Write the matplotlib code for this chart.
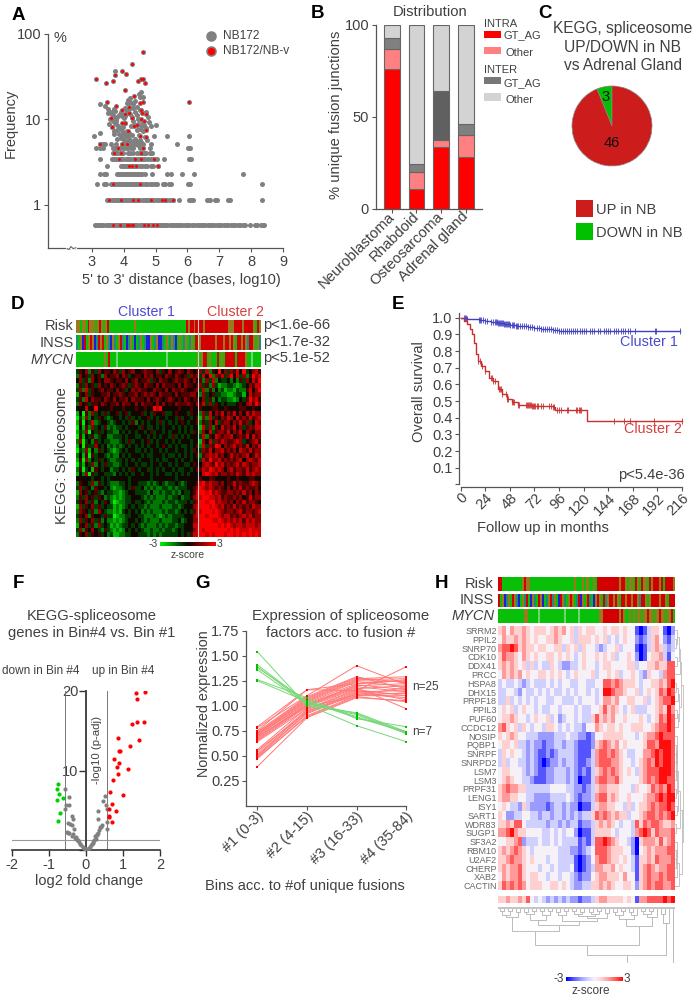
import numpy as np
import matplotlib
matplotlib.use('Agg')
import matplotlib.pyplot as plt
from matplotlib.colors import LinearSegmentedColormap, to_rgb
from matplotlib.patches import Rectangle
from matplotlib.transforms import ScaledTranslation

plt.rcParams['font.family'] = ['Liberation Sans', 'DejaVu Sans']
plt.rcParams['text.color'] = '#404040'
plt.rcParams['axes.edgecolor'] = '#555555'
plt.rcParams['xtick.color'] = '#555555'
plt.rcParams['ytick.color'] = '#555555'
plt.rcParams['xtick.labelcolor'] = '#404040'
plt.rcParams['ytick.labelcolor'] = '#404040'
plt.rcParams['axes.unicode_minus'] = False

W, H = 693, 997

# --- A: fusion distance vs frequency
a_rows = {
    0.578: [3.1, 3.15, 3.22, 3.3, 3.36, 3.44, 3.5, 3.56, 3.62, 3.7, 3.76, 3.82, 3.9, 3.96, 4.02, 4.08, 4.16, 4.22,
            4.3, 4.36, 4.42, 4.5, 4.56, 4.62, 4.7, 4.76, 4.84, 4.9, 4.96, 5.02, 5.1, 5.16, 5.24, 5.3, 5.36, 5.44,
            5.5, 5.58, 5.64, 5.7, 5.78, 5.84, 5.92, 6.0, 6.06, 6.14, 6.2, 6.3, 6.36, 6.44, 6.5, 6.56, 6.64, 6.7,
            6.78, 6.84, 6.92, 7.0, 7.06, 7.14, 7.2, 7.28, 7.36, 7.44, 7.5, 7.6, 7.66, 7.74, 7.8, 7.96, 8.12, 8.18,
            8.3, 8.36, 8.4],
    1.155: [3.48, 3.55, 3.62, 3.68, 3.74, 3.8, 3.86, 3.92, 3.98, 4.04, 4.1, 4.16, 4.22, 4.28, 4.34, 4.4, 4.46, 4.52,
            4.6, 4.66, 4.74, 4.8, 4.88, 4.96, 5.05, 5.12, 5.2, 5.28, 5.36, 5.44, 5.55, 5.72, 6.05, 6.12, 6.18, 6.62,
            6.68, 6.72, 6.88, 6.94, 7.28, 7.34, 8.35],
    1.746: [3.15, 3.38, 3.44, 3.6, 3.66, 3.72, 3.78, 3.84, 3.9, 3.96, 4.02, 4.08, 4.14, 4.2, 4.26, 4.32, 4.38, 4.44,
            4.5, 4.58, 4.66, 4.74, 4.82, 4.9, 4.98, 5.05, 5.22, 5.3, 5.42, 5.48, 6.02, 6.08, 8.35],
    2.33: [3.24, 3.38, 3.44, 3.78, 3.84, 3.92, 3.98, 4.04, 4.1, 4.16, 4.22, 4.28, 4.34, 4.4, 4.46, 4.52, 4.58, 4.66,
           4.9, 5.36, 5.48, 5.84, 6.2, 7.75],
    2.89: [3.46, 3.9, 3.96, 4.04, 4.1, 4.16, 4.22, 4.28, 4.34, 4.42, 4.5, 4.58, 4.66, 4.74, 4.84, 4.92, 5.08],
    3.46: [3.26, 3.62, 3.7, 3.76, 3.84, 3.92, 3.98, 4.06, 4.14, 4.2, 4.28, 4.36, 4.44, 4.52, 4.6, 4.68, 4.76, 4.86,
           4.96, 5.04, 5.26, 6.06, 6.12],
    4.06: [3.66, 3.74, 3.8, 3.88, 3.96, 4.14, 4.2, 4.3, 4.42, 4.5, 4.56, 4.62, 4.7, 4.82, 4.9],
    4.69: [3.12, 3.24, 3.36, 3.66, 3.72, 3.8, 3.88, 3.98, 4.06, 4.14, 4.22, 4.28, 4.52, 4.6, 4.82, 6.02, 6.08],
    5.2: [3.26, 3.34, 3.42, 3.6, 3.76, 3.94, 4.0, 4.08, 4.14, 4.2, 4.4, 4.46, 4.52, 4.6, 4.84, 5.68],
}
a_gray_x = [3.07, 3.25, 3.25, 3.42, 3.5, 3.55, 3.6, 3.65, 3.7, 3.75, 3.8, 3.85, 3.9, 3.95, 4.0, 4.05, 4.1, 4.15, 4.2,
            4.25, 4.3, 4.35, 4.4, 4.45, 4.5, 4.55, 4.6, 4.65, 4.7, 4.75, 3.55, 3.62, 3.68, 3.74, 3.8, 3.86, 3.92, 3.98,
            4.04, 4.1, 4.16, 4.22, 4.28, 4.34, 4.4, 4.46, 4.52, 4.58, 4.64, 4.7, 3.7, 3.8, 3.95, 4.0, 4.06, 4.12, 4.18,
            4.25, 4.3, 4.36, 4.42, 4.48, 4.54, 4.6, 4.66, 4.72, 4.8, 4.85, 4.95, 5.0, 5.35, 6.04, 4.1, 4.14, 4.2, 4.35,
            4.48, 4.5, 4.55, 4.6, 3.5, 3.72, 4.05, 4.12, 4.2, 4.28, 4.4, 3.72, 3.68, 3.62, 3.58, 3.65, 3.72, 3.78, 3.85,
            3.9, 3.98, 4.06, 4.13, 4.22, 4.3, 4.38, 4.46, 4.52]
a_gray_y = [6.4, 6.9, 15.0, 14.5, 13.2, 12.4, 11.8, 11.2, 10.8, 10.2, 10.6, 11.4, 12.1, 11.0, 10.4, 10.9, 12.6, 13.2, 11.7,
            10.8, 13.6, 12.2, 11.2, 10.0, 12.8, 9.8, 9.0, 12.0, 12.3, 10.8, 8.9, 8.1, 7.4, 9.6, 7.6, 6.7, 6.1, 8.2, 9.0,
            7.4, 6.9, 8.5, 9.5, 8.6, 7.6, 8.9, 7.8, 8.3, 8.6, 8.0, 6.7, 5.9, 6.4, 5.8, 6.7, 6.3, 5.8, 6.6, 5.5, 5.9, 5.4,
            6.6, 5.5, 7.4, 6.3, 5.7, 9.3, 8.3, 6.4, 8.7, 6.4, 6.4, 15.6, 17.0, 18.0, 16.6, 19.8, 18.3, 20.8, 18.5, 12.0,
            37.0, 13.6, 15.4, 16.0, 15.0, 14.0, 12.5, 13.2, 12.1, 10.0, 9.6, 9.2, 8.7, 8.2, 7.8, 7.1, 6.4, 5.6, 5.4, 5.0,
            5.2, 5.0, 5.8]
a_red_x = [3.12, 3.45, 3.65, 3.72, 3.95, 4.08, 4.25, 4.6, 4.45, 4.55, 4.6, 4.68, 4.05, 4.32, 3.47, 3.75, 6.05, 4.5,
           4.6, 3.6, 3.93, 4.05, 4.15, 4.15, 4.27, 4.55, 4.58, 4.7, 4.55, 4.62, 3.93, 4.05, 3.62, 4.32, 4.42, 4.12,
           4.7, 4.5, 4.7, 3.25, 3.95, 4.1, 4.6, 3.83, 3.7, 3.9, 4.55, 3.85, 4.35, 4.55, 4.15, 4.25, 4.37, 4.95, 5.08,
           3.65, 4.5, 3.55, 3.92, 4.28, 4.45, 4.85, 5.2, 5.28, 5.55, 3.65, 3.88, 4.1, 4.15, 4.25, 4.3, 4.65, 4.75,
           4.92, 5.05]
a_red_y = [30, 27, 28, 33, 37, 34, 44, 62, 28.5, 29.5, 30, 27, 22, 19, 16, 14.5, 16.2, 15.5, 16, 10.5, 12.8, 11.5,
           11.8, 14, 10.5, 13, 12, 11.5, 10, 9.5, 9.2, 9.0, 8.1, 8.5, 8.6, 7.4, 7.5, 6.4, 6.3, 5.2, 5.2, 5.2, 4.69,
           4.69, 4.06, 4.06, 4.06, 3.46, 3.46, 3.46, 2.89, 2.89, 2.89, 3.46, 2.89, 1.746, 1.746, 1.155, 1.155, 1.155,
           1.155, 1.155, 1.155, 1.155, 1.155, 0.578, 0.578, 0.578, 0.578, 0.578, 0.578, 0.578, 0.578, 0.578, 0.578]

# --- B: junction distribution
b_tissues = ['Neuroblastoma', 'Rhabdoid', 'Osteosarcoma', 'Adrenal gland']
b_intra_gt = [76, 11, 33.5, 28.5]
b_intra_other = [11, 9, 4, 11.5]
b_inter_gt = [6, 4.5, 26.5, 6]
b_inter_other = [7, 75.5, 36, 54]
b_inter_colors = ['#808080', '#808080', '#606060', '#808080']

# --- C: KEGG pie
c_counts = [3, 46]
c_colors = ['#00c000', '#cc1c1c']

# --- D: heatmap, digits 0-8 stand for z -3..3
d_risk = "OOGOOGROOOGOROGOR" "GGGGGGGGGGGGGOGGGGGGGGGGGGGGGGGGGGGGGGGG" "RORRO" "RRRRORRRRRRRRRRRROOORRRRORRRRROGRO"
d_inss = "TGOBRGOROBTRORGOTBOTGORTGBTOGBGTOGTBBOGTOBBTGOGTOTBGOGTOGTOG" "RROR" "RRRRRRORRRORROROGRROROTRROGOT"
d_mycn = "GGGGGGGGGGGGGGOGRGGGWGGGGGGGGGGGGGGGGGGGGGGGGWGGGGGGGGGGGGGG" "OGORRGOG" "GGRGOGRRRRRGRRRROGGWGGGG"
d_rows = [
    "3546253645 5465364564 4565546354 6456546545 6372548463 6574834675",
    "2645364526 4556465345 5465645546 5465453656 3748265736 8473625867",
    "4635264546 6545546456 4556354655 4565565464 5263724334 2425364758",
    "2536453645 4654565356 5465546465 5546465545 6352631223 3212346577",
    "3627354564 5546453465 6554465546 4655654456 3725242312 2132257468",
    "1546354455 6455654556 4565654655 5464555664 2634533221 1233147566",
    "3527465546 5464556465 5546456545 6545465455 4635242332 2124358675",
    "2645355465 4556465546 4655546464 5465556546 5736354343 3345467586",
    "4447448444 4544454445 4454487844 4445444544 5444554454 4445544544",
    "1405263435 3445345344 4534354453 3454443544 2637465746 5746475766",
    "0316243543 2344343534 3445343443 4435344345 1627354657 6475657567",
    "1504372344 3234434352 4343443534 3434543445 2536473566 4657563476",
    "0415263435 2323343444 3543343434 4343434344 1736254756 5746356577",
    "1326043534 3322434343 4434534434 3443434354 2647356657 4657465466",
    "0514352344 2233343443 3443434344 3534343444 3725476566 7456574756",
    "2603425343 3222343534 4345343443 4343444344 1647365765 5676345675",
    "1405336434 2323234343 4343443454 3434334345 2736587465 6756574657",
    "0326142534 3212343443 3434344343 4434434354 3657466756 5647657566",
    "2415053443 2322434344 4343344434 3343434345 2567675645 7565674576",
    "1506243534 3223343434 3444343433 4434344344 3758667565 6567467657",
    "0314362435 3322343443 4334344344 3434433454 4676586756 5675765667",
    "2503415434 4233434354 3443343434 4343344345 5768767646 7566575676",
    "1426053443 3324343434 4344343443 3434343444 4787675665 6576576766",
    "4444434434 3444444344 4444344444 4434444444 5445544445 4454445544",
    "2544362534 3222334344 3332323432 3343234445 7867665645 5756556765",
    "3635425443 4212234353 3423232233 2323334456 8767656546 4657565564",
    "1645345324 3322123443 3332422323 3232433457 8878676556 6565756465",
    "2536453542 3212123344 4323232223 2334233467 7887767565 5656457566",
    "3546352435 4201223343 3432322232 3323334356 8878867665 6465756654",
    "1635463534 3312123434 3323222322 2332344467 8887876756 5756565766",
    "2654352643 2212134343 4232322232 3323434357 7888787656 6567566567",
    "3546254435 3301223344 3322232123 2333344467 8878887677 5656767566",
    "2635463524 2212123443 4323222322 2334234466 8888778767 6767576766",
    "1546352634 3121233434 3232223232 3323344477 8888887878 7677677767",
    "3625464325 3212124343 4322322323 3234344467 8788888887 8787778777",
    "2546354534 2311223344 3332323233 3334343577 8878788878 8787878787",
]

# --- E: survival curves
e_blue_t = [0, 6, 12, 18, 24, 30, 36, 42, 48, 54, 60, 66, 72, 78, 84, 90, 96, 214]
e_blue_s = [1.0, 0.995, 0.99, 0.985, 0.98, 0.975, 0.97, 0.96, 0.955, 0.95, 0.95, 0.945, 0.94, 0.93, 0.93, 0.925, 0.92, 0.92]
e_blue_cens = [3, 4, 5, 6, 18, 19, 20, 22, 24, 26, 30, 32, 33, 34, 35, 36, 37, 38, 39, 40, 41, 42, 43, 44, 45, 46, 47, 48,
               50, 51, 52, 54, 55, 56, 58, 60, 62, 64, 66, 68, 70, 72, 74, 76, 78, 80, 82, 84, 86, 88, 90, 92, 94, 96,
               98, 100, 102, 104, 106, 108, 110, 112, 114, 116, 118, 120, 122, 126, 128, 130, 134, 136, 140, 142, 144,
               146, 150, 152, 154, 156, 158, 160, 163, 165, 170, 190, 191, 214]
e_red_t = [0, 3, 6, 9, 11, 13, 15, 17, 20, 24, 28, 32, 36, 40, 45, 50, 56, 70, 90, 92, 123, 216]
e_red_s = [1.0, 0.98, 0.96, 0.93, 0.9, 0.85, 0.78, 0.74, 0.71, 0.68, 0.64, 0.62, 0.57, 0.54, 0.51, 0.495, 0.475, 0.47, 0.465,
           0.445, 0.38, 0.38]
e_red_cens = [17, 19, 21, 24, 30, 31, 32, 33, 37, 38, 39, 40, 44, 45, 46, 50, 51, 52, 56, 57, 64, 65, 66, 67, 68, 69, 70,
              71, 72, 73, 74, 75, 78, 80, 86, 88, 90, 91, 94, 96, 98, 104, 105, 113, 114, 115, 116, 117, 150, 159, 165,
              189, 216]

# --- F: volcano
f_red_x = [1.6, 1.35, 1.38, 1.56, 1.39, 1.25, 1.44, 0.87, 1.19, 0.89, 0.91, 0.76, 0.89, 0.83, 1.14, 0.87, 0.72, 0.64,
           0.99, 0.69, 0.61, 0.82, 0.62, 0.63, 0.71]
f_red_y = [19.9, 19.8, 19, 16.1, 16.1, 15.8, 13.8, 14.1, 13.1, 12.5, 12.4, 11.4, 10.9, 10.4, 10.2, 9.6, 8.8, 7.3, 6.9,
           5.8, 5.2, 4.9, 4.3, 4.2, 3.5]
f_green_x = [-0.75, -0.78, -0.74, -0.62, -0.79, -0.71, -0.75]
f_green_y = [8.3, 7.7, 7.0, 6.5, 6.3, 4.7, 3.6]
f_gray_x = [0.52, 0.47, 0.54, 0.56, 0.33, 0.33, 0.58, 0.43, 0.38, 0.56, 0.36, 0.33, 0.29, 0.25, 0.22, 0.18, 0.13, 0.07,
            0.02, 0.4, 0.3, 0.27, 0.2, 0.16, 0.1, -0.57, -0.45, -0.54, -0.46, -0.57, -0.37, -0.34, -0.48, -0.39, -0.33,
            -0.52, -0.46, -0.39, -0.3, -0.21, -0.16, -0.09, -0.03, -0.42, -0.5, -0.36, -0.27, -0.24, -0.18, -0.13, -0.06]
f_gray_y = [6.8, 6.2, 5.7, 5.2, 4.9, 3.9, 3.5, 3.2, 2.9, 2.6, 2.5, 2.2, 2.0, 1.7, 1.3, 0.9, 0.6, 0.3, 0.1, 2.9, 1.9,
            1.4, 1.0, 0.7, 0.4, 7.7, 6.7, 5.7, 5.7, 5.2, 4.3, 3.9, 3.4, 3.2, 2.6, 2.3, 2.1, 1.8, 1.5, 1.2, 0.8, 0.4, 0.1,
            3.3, 2.2, 2.0, 1.6, 1.3, 1.0, 0.6, 0.2]

# --- G: expression by bin
g_bins = ['#1 (0-3)', '#2 (4-15)', '#3 (16-33)', '#4 (35-84)']
g_red_1 = [.39, .47, .48, .49, .50, .51, .53, .55, .56, .64, .65, .66, .67, .68, .69, .70, .70, .71, .72, .72, .73, .74, .75, .78, .79]
g_red_2 = [.88, .90, .89, .92, .93, .95, .96, .94, .98, .97, .99, 1.0, 1.01, 1.02, 1.0, 1.03, 1.04, 1.05, 1.06, 1.07, 1.08, 1.09, 1.16, 1.10, 1.16]
g_red_3 = [1.08, 1.10, 1.09, 1.12, 1.13, 1.10, 1.15, 1.14, 1.11, 1.16, 1.17, 1.18, 1.19, 1.20, 1.21, 1.22, 1.24, 1.25, 1.26, 1.27, 1.28, 1.29, 1.15, 1.40, 1.22]
g_red_4 = [1.05, 1.10, 1.04, 1.08, 1.12, 1.13, 1.06, 1.15, 1.18, 1.10, 1.20, .97, 1.14, 1.22, 1.16, 1.25, 1.19, 1.24, 1.27, 1.29, 1.23, 1.17, 1.39, 1.21, 1.26]
g_green_1 = [1.54, 1.41, 1.39, 1.38, 1.36, 1.26, 1.25]
g_green_2 = [1.0, 1.03, 1.02, 1.05, 1.01, 1.08, 1.04]
g_green_3 = [.93, .92, .91, .89, .80, .87, .88]
g_green_4 = [.74, .73, .72, .73, .64, .79, .74]

# --- H: spliceosome factor heatmap
h_genes = ['SRRM2', 'PPIL2', 'SNRP70', 'CDK10', 'DDX41', 'PRCC', 'HSPA8', 'DHX15', 'PRPF18', 'PPIL3', 'PUF60', 'CCDC12',
           'NOSIP', 'PQBP1', 'SNRPF', 'SNRPD2', 'LSM7', 'LSM3', 'PRPF31', 'LENG1', 'ISY1', 'SART1', 'WDR83', 'SUGP1',
           'SF3A2', 'RBM10', 'U2AF2', 'CHERP', 'XAB2', 'CACTIN']
h_rows = [
    "56465565455 54565645354 55445455454 41013554102",
    "46556565454 45565445355 54545343454 42123564213",
    "67787565545 54455354535 44323445344 41013565323",
    "57665465454 45545454345 44545453445 42014556314",
    "56565453534 33543223345 44345544445 53445565577",
    "46565645445 54545434544 45344545344 54325443677",
    "34334323433 34343443344 33447767655 54344556578",
    "33443243343 43433434344 34348876654 45345457687",
    "33534343434 43344333434 44346656445 54453456778",
    "45453454434 33443444343 34457565434 53334456586",
    "45565443454 45342344343 35756564454 44543457687",
    "67545354344 35543434332 44654554544 55544567787",
    "54565443332 22233343322 12445555544 43456678777",
    "45545332322 12233233211 12567656454 44457768887",
    "35454432321 12123333211 13677676543 34466787887",
    "35344332321 01223233211 23677766544 34567687887",
    "45544432321 12233323212 13567676545 43567778887",
    "45654433211 12233323201 13677667544 44567678877",
    "56766553333 33444433221 23566555444 35445767687",
    "56655443322 22333343212 23677565445 44456678788",
    "45433253222 21233232201 13566554435 34556767787",
    "54223344332 33233232323 35767656553 44567767678",
    "55657743333 32332323312 23565654344 37576776556",
    "66786554444 33434344201 13555543444 36787576667",
    "44556723334 33434333312 13778765443 20566657567",
    "56567654344 44443332212 34777655544 20456566677",
    "55676654544 43443333101 24677655454 31556576667",
    "56566754443 44343334101 23665564544 31567656677",
    "46566754554 43443443212 24566555464 41567667677",
    "57676764555 44554543223 35565654455 42567677667",
]
h_summary = "55655657434 32323232212 23566555545 41667777878"
h_risk = "RRGGGGGGGGGGOROOGGGGGGGGGGGGGGGGGGGGGGOGGGOGOGGOGRRRRRRRRRRRORROGOOGROGROOGRORRRORGRRRRO"
h_inss = "RGOBTOGROTBGOTRGBOTGROBGTORTOGBROTGOROGTRBOGORTGBOROGRTORROROGRRORRORROTRROGORRRRORROGRRR"
h_mycn = "GGGGGGGGGGGGGOOGGGGGWGGGGGGGGGGGGWGGGGGGWGGGGGGGGGOORRRRRRRROROGGOGOGOOGOOROOGOOROOGOORG"
h_col_gaps = [.06, .12, .05, .16, .08, .42, .07, .10, .05, .22, .06, .13, .05, .30, .08, .12, .06, .24, .05, .11, .07,
              .15, .08, .10, .05, .18, .09, .67, .07, .12, .05, .2, .08, .13, .32, .06, .11, .05, .16, .85, .1, .28, 1.0]
h_row_gaps = [.2, .1, .35, .15, .5, .62, .12, .25, .4, .2, .3, .8, .15, .1, .08, .12, .05, .22, .1, .3, .2, .45, .12,
              .7, .15, .1, .08, .2, .35]

strip_colors = {'G': '#08c008', 'R': '#d20000', 'O': '#9a7a1c', 'B': '#1e1ed8', 'T': '#1f8c78', 'W': '#70d470'}
rg_cmap = LinearSegmentedColormap.from_list('rg', ['#00f000', '#00b800', '#007a00', '#003c00', '#100800', '#500000',
                                                   '#8c0000', '#c80000', '#ff0000'])
bwr_cmap = LinearSegmentedColormap.from_list('bwr2', ['#0000ff', '#5555ff', '#9a9aff', '#d0d0ff', '#f6f2f8', '#ffd2d2',
                                                      '#ff9c9c', '#ff5c5c', '#ff0c0c'])

fig = plt.figure(figsize=(W / 100, H / 100), dpi=100)


def px_axes(x0, y0, x1, y1):
    # y0 is the top edge, everything in image pixels
    return fig.add_axes([x0 / W, 1 - y1 / H, (x1 - x0) / W, (y1 - y0) / H])


def clean(ax, lw=0.9):
    ax.spines['top'].set_visible(False)
    ax.spines['right'].set_visible(False)
    ax.spines['left'].set_linewidth(lw)
    ax.spines['bottom'].set_linewidth(lw)
    ax.patch.set_alpha(0)


def digits(rows):
    return np.array([[int(c) for c in r.replace(' ', '')] for r in rows], dtype=float)


def strip(box, codes):
    ax = px_axes(*box)
    ax.imshow([[to_rgb(strip_colors[c]) for c in codes]], aspect='auto', interpolation='nearest')
    ax.axis('off')


def dendro(gaps, lo, hi):
    if lo == hi:
        return lo, 0, []
    k = lo + int(np.argmax(gaps[lo:hi]))
    c1, h1, s1 = dendro(gaps, lo, k)
    c2, h2, s2 = dendro(gaps, k + 1, hi)
    seg = ([c1, c1, c2, c2], [h1, gaps[k], gaps[k], h2])
    return (c1 + c2) / 2, gaps[k], s1 + s2 + [seg]


# panel A
ax = px_axes(48, 34, 283, 248)
clean(ax)
ax.set_yscale('log')
ax.set_xlim(1.62, 9)
ax.set_ylim(0.314, 100)
for y_val, xs in a_rows.items():
    ax.scatter(xs, [y_val] * len(xs), s=13, color='#808080', linewidths=0, zorder=2)
ax.scatter(a_gray_x, a_gray_y, s=13, color='#808080', linewidths=0, zorder=2)
ax.scatter(a_red_x, a_red_y, s=13, color='#808080', linewidths=0, zorder=3)
ax.scatter(a_red_x, a_red_y, s=4.5, color='#ff0000', linewidths=0, zorder=4)
ax.set_yticks([1, 10, 100])
ax.set_yticklabels(['1', '10', '100'], fontsize=10.5)
ax.minorticks_off()
ax.set_xticks([3, 4, 5, 6, 7, 8, 9])
ax.tick_params(axis='x', labelsize=10.5, length=3, width=0.8, pad=2)
ax.tick_params(axis='y', length=3, width=0.8, pad=2)

# panel B
ax = px_axes(376, 25, 482, 209)
clean(ax)
xb = np.arange(4)
ax.set_xlim(-0.65, 3.67)
ax.set_ylim(0, 100)
bottom = np.zeros(4)
for vals, col in [(b_intra_gt, '#ff0000'), (b_intra_other, '#ff8080'), (b_inter_gt, b_inter_colors),
                  (b_inter_other, '#d3d3d3')]:
    ax.bar(xb, vals, 0.65, bottom=bottom, color=col, edgecolor='#666666', linewidth=0.8)
    bottom += np.array(vals)
ax.set_yticks([0, 50, 100])
ax.set_xticks(xb)
ax.set_xticklabels(b_tissues, rotation=45, ha='right', va='center', rotation_mode='anchor', fontsize=10.7)
ax.tick_params(axis='y', labelsize=10.5, length=3, width=0.8, pad=2)
ax.tick_params(axis='x', length=3, width=0.8, pad=1)

# panel C
ax = px_axes(562, 76, 662, 176)
ax.pie(c_counts, colors=c_colors, startangle=90, radius=0.8, center=(0, 0),
       wedgeprops={'edgecolor': '#888888', 'linewidth': 0.5})
ax.set_xlim(-1, 1)
ax.set_ylim(-1, 1)

# panel D
ax = px_axes(76, 369, 261, 537)
ax.imshow(digits(d_rows), cmap=rg_cmap, vmin=0, vmax=8, aspect='auto', interpolation='nearest')
ax.axis('off')
strip((76, 320, 261, 333), d_risk)
strip((76, 335, 261, 350), d_inss)
strip((76, 352, 261, 367), d_mycn)
ax = px_axes(160, 542, 216, 546)
ax.imshow([np.linspace(0, 8, 56)], cmap=rg_cmap, vmin=0, vmax=8, aspect='auto')
ax.axis('off')

# panel E
ax = px_axes(460.7, 317.7, 682, 484.4)
clean(ax)
ax.set_xlim(0, 216)
ax.set_ylim(0, 1)
for t, s, cens, col in [(e_blue_t, e_blue_s, e_blue_cens, '#4040c0'), (e_red_t, e_red_s, e_red_cens, '#c83030')]:
    ax.step(t, s, where='post', color=col, linewidth=1.0, clip_on=False)
    idx = np.searchsorted(t, cens, side='right') - 1
    ax.plot(cens, np.array(s)[idx], '|', color=col, markersize=4.5, markeredgewidth=0.6, clip_on=False)
ax.spines['left'].set_position(('outward', 1.5))
ax.spines['bottom'].set_position(('outward', 2))
ax.spines['left'].set_bounds(0, 1.03)
ax.set_yticks([0, 0.1, 0.2, 0.3, 0.4, 0.5, 0.6, 0.7, 0.8, 0.9, 1.0])
ax.set_yticklabels(['', '0.1', '0.2', '0.3', '0.4', '0.5', '0.6', '0.7', '0.8', '0.9', '1.0'], fontsize=10.5)
ax.set_xticks(range(0, 217, 24))
ax.set_xticklabels(range(0, 217, 24), rotation=45, ha='right', va='center', rotation_mode='anchor', fontsize=10.5)
ax.tick_params(length=3, width=0.8, pad=1.5)
ax.tick_params(axis='x', pad=3)
shift = ScaledTranslation(5 / 100, 0, fig.dpi_scale_trans)  # labels end a little right of the tick
for lbl in ax.get_xticklabels():
    lbl.set_transform(lbl.get_transform() + shift)

# panel F
ax = px_axes(12, 691, 160, 850)
ax.patch.set_alpha(0)
ax.set_xlim(-2, 2)
ax.set_ylim(0, 20)
ax.spines['top'].set_visible(False)
ax.spines['right'].set_visible(False)
ax.spines['left'].set_position(('data', 0))
ax.spines['left'].set_linewidth(1.4)
ax.spines['bottom'].set_linewidth(1.2)
ax.spines['left'].set_color('#444444')
ax.spines['bottom'].set_color('#333333')
ax.axvline(-0.58, color='#777777', linewidth=0.7)
ax.axvline(0.58, color='#777777', linewidth=0.7)
ax.axhline(1.26, color='#999999', linewidth=0.8)
ax.scatter(f_gray_x, f_gray_y, s=9, color='#808080', linewidths=0, zorder=3)
ax.scatter(f_red_x, f_red_y, s=9, color='#ff0000', linewidths=0, zorder=3)
ax.scatter(f_green_x, f_green_y, s=9, color='#00d000', linewidths=0, zorder=3)
ax.set_xticks([-2, -1, 0, 1, 2])
ax.set_yticks([0, 10, 20])
ax.set_yticklabels(['', '10', '20'], fontsize=10.5)
ax.tick_params(axis='x', labelsize=10.5, length=4, width=1, pad=1.5, color='#333333')
ax.tick_params(axis='y', length=5, width=1, pad=0.5, color='#333333')

# panel G
ax = px_axes(245.7, 630.7, 406.3, 805.7)
clean(ax)
ax.set_xlim(-0.234, 3)
ax.set_ylim(0, 1.75)
for row in zip(g_red_1, g_red_2, g_red_3, g_red_4):
    ax.plot(xb, row, '-', color='#ff7878', linewidth=0.7, zorder=2, clip_on=False)
    ax.plot(xb, row, 's', color='#ff0000', markersize=1.9, markeredgewidth=0, zorder=3, clip_on=False)
for row in zip(g_green_1, g_green_2, g_green_3, g_green_4):
    ax.plot(xb, row, '-', color='#78d878', linewidth=0.7, zorder=4, clip_on=False)
    ax.plot(xb, row, 's', color='#00c000', markersize=1.9, markeredgewidth=0, zorder=5, clip_on=False)
ax.set_yticks([0.25, 0.5, 0.75, 1.0, 1.25, 1.5, 1.75])
ax.set_yticklabels(['0.25', '0.50', '0.75', '1.00', '1.25', '1.50', '1.75'], fontsize=10.5)
ax.set_xticks(xb)
ax.set_xticklabels(g_bins, rotation=45, ha='right', va='center', rotation_mode='anchor', fontsize=10.5)
ax.tick_params(length=3, width=0.8, pad=1.5)
ax.tick_params(axis='x', pad=3)
for lbl in ax.get_xticklabels():
    lbl.set_transform(lbl.get_transform() + ScaledTranslation(4 / 100, 0, fig.dpi_scale_trans))

# panel H
ax = px_axes(498, 626, 675, 890)
ax.imshow(digits(h_rows), cmap=bwr_cmap, vmin=0, vmax=8, aspect='auto', interpolation='nearest')
ax.set_xticks([])
ax.set_yticks(range(len(h_genes)))
ax.set_yticklabels(h_genes, fontsize=6.5, color='#666666')
ax.tick_params(axis='y', length=0, pad=1)
for s in ax.spines.values():
    s.set_visible(False)
strip((498, 577, 675, 591), h_risk)
strip((498, 594, 675, 607), h_inss)
strip((498, 609, 675, 623), h_mycn)
ax = px_axes(498, 896, 675, 903)
ax.imshow(digits([h_summary]), cmap=bwr_cmap, vmin=0, vmax=8, aspect='auto', interpolation='nearest')
ax.axis('off')
ax = px_axes(498, 908, 675, 963)
for xs, ys in dendro(h_col_gaps, 0, len(h_col_gaps))[2]:
    ax.plot(xs, ys, color='#bbbbbb', linewidth=0.7)
ax.set_xlim(-0.5, 43.5)
ax.set_ylim(1, 0)
ax.axis('off')
ax = px_axes(675, 626, 685, 890)
for xs, ys in dendro(h_row_gaps, 0, len(h_row_gaps))[2]:
    ax.plot(ys, xs, color='#bbbbbb', linewidth=0.6)
ax.set_ylim(29.5, -0.5)
ax.set_xlim(0, 1)
ax.axis('off')
ax = px_axes(566, 977, 623, 981)
ax.imshow([np.linspace(0, 8, 57)], cmap=bwr_cmap, vmin=0, vmax=8, aspect='auto')
ax.axis('off')

# overlay in pixel coordinates for all the free text
ov = fig.add_axes([0, 0, 1, 1], zorder=20)
ov.set_xlim(0, W)
ov.set_ylim(H, 0)
ov.axis('off')


def put(x, y, s, size=10.5, ha='left', color='#404040', **kw):
    ov.text(x, y, s, fontsize=size, ha=ha, va='center', color=color, **kw)


def box(x0, y0, x1, y1, col):
    ov.add_patch(Rectangle((x0, y0), x1 - x0, y1 - y0, facecolor=col, edgecolor='none'))


for letter, x, y in [('A', 18, 15), ('B', 317, 13), ('C', 545, 13), ('D', 18, 304), ('E', 398, 304), ('F', 18, 583),
                     ('G', 203, 583), ('H', 442, 583)]:
    put(x, y, letter, size=13.5, ha='center', color='#000000', fontweight='bold')

# A extras
put(54, 38, '%', 10.5)
put(11, 123, 'Frequency', 10.5, ha='center', rotation=90)
put(181, 280, "5' to 3' distance (bases, log10)", 10.5, ha='center')
ov.scatter([211, 211], [36, 51], s=58, color='#808080', linewidths=0)
ov.scatter([211], [51], s=28, color='#ff0000', linewidths=0)
put(223, 36, 'NB172', 8.6)
put(223, 51, 'NB172/NB-v', 8.6)
ov.plot([67, 76], [248, 248], color='white', linewidth=1.6)
ov.plot([67, 69, 71, 73, 76], [248.5, 249.5, 246.5, 248.5, 247.8], color='#555555', linewidth=0.7)

# B extras
put(336, 115, '% unique fusion junctions', 10.6, ha='center', rotation=90)
put(393, 12, 'Distribution', 10.7)
put(484, 24, 'INTRA', 8)
box(484, 31, 501, 38, '#ff0000')
put(504, 35, 'GT_AG', 8)
box(484, 47, 501, 54, '#ff8080')
put(505, 53, 'Other', 8)
put(484, 70, 'INTER', 8)
box(484, 77, 501, 84, '#777777')
put(504, 83, 'GT_AG', 8)
box(484, 93, 501, 101, '#d3d3d3')
put(505, 100, 'Other', 8)

# C extras
put(623, 29, 'KEGG, spliceosome', 11.2, ha='center')
put(623, 47, 'UP/DOWN in NB', 11.2, ha='center')
put(623, 65, 'vs Adrenal Gland', 11.2, ha='center')
put(606, 97, '3', 10.5, ha='center', color='#111111')
put(612, 143, '46', 10.5, ha='center', color='#111111')
box(576, 200, 593, 217, '#cc1c1c')
box(576, 223, 593, 240, '#00c000')
put(596, 210, 'UP in NB', 10.5)
put(596, 233, 'DOWN in NB', 10.5)

# D extras
put(146, 312, 'Cluster 1', 10.2, ha='center', color='#4a4ad0')
put(235, 312, 'Cluster 2', 10.2, ha='center', color='#d84040')
put(74, 326, 'Risk', 10.5, ha='right')
put(74, 343, 'INSS', 10.5, ha='right')
put(74, 360, 'MYCN', 10.5, ha='right', style='italic')
put(263, 325, 'p<1.6e-66', 10.6)
put(263, 342, 'p<1.7e-32', 10.6)
put(263, 358, 'p<5.1e-52', 10.6)
ov.plot([197.5, 197.5], [320, 537], color='#cccccc', linewidth=0.8)
put(62, 456, 'KEGG: Spliceosome', 10.7, ha='center', rotation=90)
put(158, 544, '-3', 7.5, ha='right')
put(217, 544, '3', 7.5)
put(188, 555, 'z-score', 7.5, ha='center')

# E extras
put(419, 392, 'Overall survival', 10.5, ha='center', rotation=90)
put(678, 342, 'Cluster 1', 10.4, ha='right', color='#4a4ad0')
put(682, 429, 'Cluster 2', 10.4, ha='right', color='#d84040')
put(685, 475, 'p<5.4e-36', 10.6, ha='right')
put(543, 528, 'Follow up in months', 10.6, ha='center')

# F extras
put(92, 616, 'KEGG-spliceosome', 10.6, ha='center')
put(92, 633, 'genes in Bin#4 vs. Bin #1', 10.6, ha='center')
put(41, 671, 'down in Bin #4', 8.5, ha='center')
put(123, 671, 'up in Bin #4', 8.5, ha='center')
put(97, 750, '-log10 (p-adj)', 8.2, ha='center', rotation=90, )
put(89, 881, 'log2 fold change', 10.5, ha='center')

# G extras
put(204, 704, 'Normalized expression', 10.4, ha='center', rotation=90)
put(341, 616, 'Expression of spliceosome', 10.7, ha='center')
put(341, 633, 'factors acc. to fusion #', 10.7, ha='center')
put(412, 687, 'n=25', 8.5)
put(412, 732, 'n=7', 8.5)
put(305, 886, 'Bins acc. to #of unique fusions', 10.5, ha='center')

# H extras
put(494, 584, 'Risk', 10.5, ha='right')
put(494, 600, 'INSS', 10.5, ha='right')
put(495, 616, 'MYCN', 10.5, ha='right', style='italic')
box(498, 907, 675, 909, '#c4c4c4')
put(564, 979, '-3', 8.5, ha='right')
put(624, 979, '3', 8.5)
put(591, 991, 'z-score', 8.5, ha='center')

fig.savefig('out.png', dpi=100)
